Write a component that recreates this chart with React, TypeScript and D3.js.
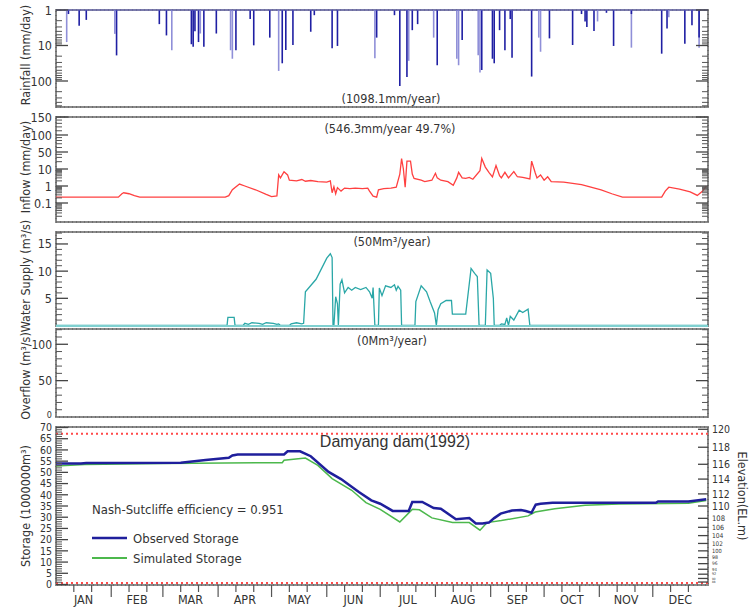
import React from 'react';
import * as d3 from 'd3';

// ---------------- DATA ----------------
const MONTHS = ['JAN','FEB','MAR','APR','MAY','JUN','JUL','AUG','SEP','OCT','NOV','DEC'];
const MONTH_DAYS = [31,29,31,30,31,30,31,31,30,31,30,31];

// Rainfall (mm/day) – [day, value]
const rainDark: [number, number][] = [
  [7,1.3],[13,2.8],[17,1.9],[34,19],[58,2.5],[62,5.2],[76,9.2],[77,10.8],[78,4],[80,8],[83,10.8],[90,4.6],
  [101,13.6],[109,1.8],[111,9.9],[120,6],[127,31.7],[129,13.4],[133,9.7],[143,4.1],[145,1.4],[155,12],[158,10.3],
  [180,6],[190,1.4],[193,138],[197,77],[200,3.7],[203,2.5],[214,36],[228,7],[239,49],[245,23.6],[246,31.7],
  [249,3.7],[252,13.6],[255,1.8],[256,22],[267,75],[277,6.3],[290,9.7],[295,1.3],[297,2.1],[298,3],[302,3.9],
  [309,1.2],[313,10.3],[323,1.3],[340,17],[343,3.3],[353,8.9],[357,2.7],[361,6]
];
const rainLight: [number, number][] = [
  [6,8],[33,4.7],[65,13.6],[81,4.6],[98,13.6],[99,23.6],[125,52],[179,23],[198,27],[212,6],[225,23.6],
  [226,36],[237,18.8],[238,58],[271,6],[272,15],[304,2.1],[323,11.5],[344,1.6],[361,11.5]
];

// Inflow (mm/day) – [day, value]
const inflow: [number, number][] = [
  [0,0.22],[35,0.22],[37,0.35],[38,0.4],[41,0.35],[44,0.27],[47,0.22],[95,0.22],[97,0.27],[99,0.6],[103,1.3],
  [106,1.0],[112,0.6],[118,0.32],[121,0.24],[124,0.26],[125,4.5],[126,3.0],[128,6.9],[130,4.5],[131,2.2],[135,2.0],
  [138,2.4],[140,1.9],[143,2.1],[147,1.8],[152,1.7],[154,2.0],[155,0.4],[156,0.9],[157,0.35],[158,0.8],[160,0.5],
  [162,0.75],[165,0.7],[168,0.75],[172,0.7],[175,0.75],[176,0.5],[178,0.25],[180,0.22],[181,0.6],[184,0.7],
  [188,0.75],[191,0.85],[193,5],[194,27],[195,10],[196,0.85],[197,21],[199,21],[200,5],[201,2.8],[205,2.2],
  [207,1.8],[211,2.2],[213,5.6],[214,3],[216,2.2],[220,1.8],[223,1.1],[225,3],[226,6.4],[228,3],[230,2.8],
  [232,3.2],[234,2.5],[238,8],[239,27],[241,12],[243,6.4],[245,3.4],[247,13.8],[249,4],[250,3],[252,6.4],
  [254,3],[257,7],[259,3.5],[262,3.2],[266,2.6],[267,21],[269,6],[270,3],[272,4.5],[274,2.2],[276,3.5],
  [278,1.8],[285,1.7],[295,1.2],[306,0.6],[312,0.35],[318,0.22],[340,0.22],[342,0.5],[344,0.85],[350,0.65],
  [356,0.45],[360,0.28],[363,0.5],[365,1.0]
];

// Water supply (m3/s) – [day, value]
const supply: [number, number][] = [
  [0,0],[96,0],[96.5,1.5],[100,1.5],[100.5,0],[105,0],[106,0.4],[108,0.2],[110,0.5],[114,0.4],[116,0.2],
  [118,0.5],[122,0.4],[124,0.2],[125,0.3],[126,0],[131,0],[132,0.3],[135,0.5],[138,0.3],[139,0.4],[140,6.2],
  [146,8.5],[152,12.4],[154,13.2],[155,12.5],[155.5,0],[156,0],[157,5.3],[158,4],[158.5,0],[159.5,7.6],
  [160.5,8.4],[162,6],[164,7],[166,6.5],[168,7],[171,6.6],[174,7],[176,6.2],[177.5,5],[178,7],[179,0],[181,0],
  [181.5,6.9],[183,5.5],[185,7.3],[188,7],[190,7.5],[191,6.5],[192,7.2],[193.5,6.5],[194,0],[201.5,0],[202,4.4],
  [205,7.3],[208,6.2],[210,4.4],[212.5,2.3],[213.5,0],[214.5,2.9],[216,4],[219,4.6],[222,4.6],[222.5,2.1],
  [230,2.1],[233,10.5],[235,9.6],[236.5,9],[237.5,0],[241,0],[242,10.2],[244,9.6],[245.5,5],[246,0],[249,0],
  [250,0.3],[252,0.2],[253,1.4],[254,0],[255,1.7],[257,1],[260,2.8],[262,2.4],[265,3],[266,0],[366,0]
];

// Storage (10^6 m3) – [day, value]
const observed: [number, number][] = [
  [0,53.9],[14,53.9],[17,54.2],[70,54.3],[84,55.5],[97,56.5],[99,57.5],[102,58],[128,58],[130,59.4],[137,59.4],
  [143,57.2],[153,50.2],[160,47],[170,41.2],[177,37.5],[182,36],[189,32.8],[198,32.8],[200,36.8],[205.6,36.8],
  [212,34.1],[216,33.8],[224.5,29.1],[232,29.6],[235.7,27.2],[239.4,27.2],[243,27.6],[246,29.6],[249.6,31.6],
  [256,33],[261,33.2],[263.7,32.8],[266.9,32],[269.3,35.6],[272,36],[278.7,36.4],[336.7,36.4],[338,37],
  [355,37],[365,38]
];
const simulated: [number, number][] = [
  [0,52.8],[16,53.5],[60,54],[127,54.3],[128,55.4],[140,56.4],[147,53.1],[155,47.2],[166,42],[174,36.5],
  [182,33.5],[193,27.9],[200,33.5],[204,33.3],[211,29.7],[222.6,27.6],[232,27.6],[238,24.2],[242,27.6],
  [250,28.5],[265,30.6],[269,32.3],[280,33.8],[297,35.3],[316,35.9],[355,36.2],[365,37.5]
];

const NORMAL_HIGH = 67.2;
const LOW_LEVEL = 0.7;

// Axis ticks
const RAIN_MAJOR = [1, 10, 100];
const RAIN_MINOR = [2,3,4,5,6,7,8,9,20,30,40,50,60,70,80,90,200,300,400,500];
const INFLOW_MAJOR = [0.1, 1, 10, 50, 100, 150];
const INFLOW_LABELS = ['0.1','1','10','50','100','150'];
const INFLOW_MINOR = [0.02,0.03,0.04,0.05,0.06,0.07,0.08,0.09,0.2,0.3,0.4,0.5,0.6,0.7,0.8,0.9,2,3,4,5,6,7,8,9,20,30,40,60,70,80,90,110,120,130,140];
const SUPPLY_MAJOR = [5, 10, 15];
const SUPPLY_MINOR = [1,2,3,4,6,7,8,9,11,12,13,14,16,17];
const OVER_MAJOR = [50, 100];
const OVER_ZERO = 0;
const OVER_MINOR = [10,20,30,40,60,70,80,90,110,120];
const STOR_MAJOR = [0,5,10,15,20,25,30,35,40,45,50,55,60,65,70];
const ELEV_LABELS = [120,118,116,114,112,110,108,106,104,102,100,98,96,94,92,90,88];
const ELEV_STORAGE = [69.2,61.2,53.6,47,40.4,35,29.5,25.5,21.8,18.3,15,12,9.3,6.8,4.6,2.7,1.1];

// ---------------- LAYOUT ----------------
const X0 = 56, X1 = 708;
const FONT = "'Liberation Sans Narrow','DejaVu Sans Condensed','Arial Narrow',sans-serif";
const TXT = '#333';
const P1 = { t: 10, b: 107 };
const P2 = { t: 117, b: 222 };
const P3 = { t: 232, b: 326 };
const P4 = { t: 329, b: 417 };
const P5 = { t: 427, b: 585 };

const x = d3.scaleLinear().domain([0, 366]).range([X0, X1]);
const yRain = d3.scaleLog().domain([1, 100]).range([P1.t, P1.t + 71]);
const yInflowLin = d3.scaleLinear()
  .domain([-2, -1, 0, 1, Math.log10(50), 2, Math.log10(150)])
  .range([P2.b, 203, 186, 169, 152, 135, P2.t]);
const yInflow = (v: number) => yInflowLin(Math.log10(v));
const ySupply = d3.scaleLinear().domain([0, 17.2]).range([P3.b - 0.5, P3.t]);
const yOver = d3.scaleLinear().domain([0, 121]).range([P4.b, P4.t]);
const yStor = d3.scaleLinear().domain([0, 70]).range([584.5, 427.5]);

function Ticks({ major, minor, y, labels, fs = 12.5, both = true }: any) {
  const els: any[] = [];
  major.forEach((v: number, i: number) => {
    const yy = y(v);
    els.push(<line key={'ma' + i} x1={X0} x2={X0 + 12} y1={yy} y2={yy} stroke="#444" strokeWidth={1.3} />);
    if (both) els.push(<line key={'mar' + i} x1={X1} x2={X1 - 12} y1={yy} y2={yy} stroke="#444" strokeWidth={1.3} />);
    els.push(<text key={'l' + i} x={X0 - 4} y={yy + fs * 0.36} textAnchor="end" fontSize={fs} fill={TXT} fontFamily={FONT}>{labels ? labels[i] : String(v)}</text>);
  });
  minor.forEach((v: number, i: number) => {
    const yy = y(v);
    els.push(<line key={'mi' + i} x1={X0} x2={X0 + 6} y1={yy} y2={yy} stroke="#555" strokeWidth={1} />);
    if (both) els.push(<line key={'mir' + i} x1={X1} x2={X1 - 6} y1={yy} y2={yy} stroke="#555" strokeWidth={1} />);
  });
  return <g>{els}</g>;
}

function Frame({ p }: any) {
  return (
    <g>
      <rect x={X0} y={p.t} width={X1 - X0} height={p.b - p.t} fill="none" stroke="#8a8a8a" strokeWidth={2} />
      <rect x={X0} y={p.t} width={X1 - X0} height={p.b - p.t} fill="none" stroke="#555" strokeWidth={1} strokeDasharray="1 3" />
    </g>
  );
}

function YTitle({ text, cx, cy, rot = -90 }: any) {
  return (
    <text transform={`translate(${cx},${cy}) rotate(${rot})`} textAnchor="middle" fontSize={12.5} fill={TXT} fontFamily={FONT}>{text}</text>
  );
}

export default function App() {
  const inflowLine = d3.line<[number, number]>().x(d => x(d[0])).y(d => yInflow(d[1]));
  const supplyLine = d3.line<[number, number]>().x(d => x(d[0])).y(d => ySupply(d[1]));
  const storLine = d3.line<[number, number]>().x(d => x(d[0])).y(d => yStor(d[1]));

  const cum: number[] = [0];
  MONTH_DAYS.forEach(d => cum.push(cum[cum.length - 1] + d));

  const xTicks: any[] = [];
  MONTHS.forEach((m, i) => {
    const s = cum[i];
    if (i > 0) xTicks.push(<line key={'mb' + i} x1={x(s)} x2={x(s)} y1={P5.b} y2={P5.b + 12} stroke="#555" strokeWidth={1.2} />);
    [10, 20].forEach(dd => xTicks.push(<line key={'md' + i + dd} x1={x(s + dd)} x2={x(s + dd)} y1={P5.b} y2={P5.b + 7} stroke="#555" strokeWidth={1.2} />));
    xTicks.push(<text key={'ml' + i} x={x(s + MONTH_DAYS[i] / 2)} y={604} textAnchor="middle" fontSize={12.5} fill={TXT} fontFamily={FONT}>{m}</text>);
  });

  // elevation labels: shrink where they crowd together
  const elevYs = ELEV_STORAGE.map(s => yStor(s));
  const elevFs = elevYs.map((yy, i) => {
    const gap = i < elevYs.length - 1 ? elevYs[i + 1] - yy : yy - elevYs[i - 1];
    const prev = i > 0 ? yy - elevYs[i - 1] : gap;
    return Math.max(3, Math.min(10.5, Math.min(gap, prev) * 0.85));
  });

  return (
    <svg width={750} height={610} style={{ position: 'fixed', left: 0, top: 0, background: '#fff' }}>
      <rect x={0} y={0} width={750} height={610} fill="#fff" />

      {/* Panel 1: Rainfall */}
      <Frame p={P1} />
      {rainLight.map((d, i) => (
        <line key={'rl' + i} x1={x(d[0])} x2={x(d[0])} y1={P1.t} y2={yRain(d[1])} stroke="#8f8fd8" strokeWidth={1.6} />
      ))}
      {rainDark.map((d, i) => (
        <line key={'rd' + i} x1={x(d[0])} x2={x(d[0])} y1={P1.t} y2={yRain(d[1])} stroke="#1f1fa3" strokeWidth={1.6} />
      ))}
      <line x1={X0} x2={X1} y1={P1.t} y2={P1.t} stroke="#6a6acc" strokeWidth={1.2} />
      <Ticks major={RAIN_MAJOR} minor={RAIN_MINOR} y={yRain} />
      <text x={391} y={103} textAnchor="middle" fontSize={12.5} fill={TXT} fontFamily={FONT}>(1098.1mm/year)</text>
      <YTitle text="Rainfall (mm/day)" cx={30} cy={55} />

      {/* Panel 2: Inflow */}
      <Frame p={P2} />
      <path d={inflowLine(inflow) || ''} fill="none" stroke="#ff4040" strokeWidth={1.3} />
      <Ticks major={INFLOW_MAJOR} minor={INFLOW_MINOR} y={yInflow} labels={INFLOW_LABELS} />
      <text x={390} y={133} textAnchor="middle" fontSize={12.5} fill={TXT} fontFamily={FONT}>(546.3mm/year 49.7%)</text>
      <YTitle text="Inflow (mm/day)" cx={30} cy={167} />

      {/* Panel 3: Water supply */}
      <Frame p={P3} />
      <path d={supplyLine(supply) || ''} fill="none" stroke="#2aa7a7" strokeWidth={1.3} />
      <line x1={X0} x2={X1} y1={P3.b} y2={P3.b} stroke="#7fd0d0" strokeWidth={2} />
      <Ticks major={SUPPLY_MAJOR} minor={SUPPLY_MINOR} y={ySupply} />
      <text x={392} y={246} textAnchor="middle" fontSize={12.5} fill={TXT} fontFamily={FONT}>(50Mm³/year)</text>
      <YTitle text="Water Supply (m³/s)" cx={30} cy={276} />

      {/* Panel 4: Overflow */}
      <Frame p={P4} />
      <Ticks major={OVER_MAJOR} minor={OVER_MINOR} y={yOver} fs={12} />
      <text x={X0 - 4} y={yOver(OVER_ZERO) + 1} textAnchor="end" fontSize={9} fill={TXT} fontFamily={FONT}>{OVER_ZERO}</text>
      <text x={392} y={345} textAnchor="middle" fontSize={12.5} fill={TXT} fontFamily={FONT}>(0Mm³/year)</text>
      <YTitle text="Overflow (m³/s)" cx={30} cy={376} />

      {/* Panel 5: Storage */}
      <Frame p={P5} />
      <line x1={X0} x2={X1} y1={yStor(NORMAL_HIGH)} y2={yStor(NORMAL_HIGH)} stroke="#ff4a4a" strokeWidth={2} strokeDasharray="2 3" />
      <line x1={X0} x2={X1} y1={yStor(LOW_LEVEL)} y2={yStor(LOW_LEVEL)} stroke="#ff4a4a" strokeWidth={2} strokeDasharray="2 3" />
      <path d={storLine(simulated) || ''} fill="none" stroke="#4cb84c" strokeWidth={1.5} />
      <path d={storLine(observed) || ''} fill="none" stroke="#1f1f9c" strokeWidth={2.5} />
      <Ticks major={STOR_MAJOR} minor={d3.range(1, 70).filter(v => v % 5 !== 0)} y={yStor} both={false} fs={10.5} />
      {ELEV_LABELS.map((e, i) => (
        <g key={'el' + i}>
          <line x1={X1} x2={X1 - 10} y1={elevYs[i]} y2={elevYs[i]} stroke="#444" strokeWidth={1.3} />
          <text x={X1 + 4} y={elevYs[i] + elevFs[i] * 0.36} fontSize={elevFs[i]} fill={TXT} fontFamily={FONT}>{e}</text>
        </g>
      ))}
      <text x={395} y={447} textAnchor="middle" fontSize={16} fill={TXT} fontFamily="'Liberation Sans',Arial,sans-serif">Damyang dam(1992)</text>
      <text x={92} y={514} fontSize={13} fill={TXT} fontFamily={FONT}>Nash-Sutcliffe efficiency = 0.951</text>
      <line x1={92} x2={127} y1={538} y2={538} stroke="#1f1f9c" strokeWidth={2.5} />
      <text x={133} y={543} fontSize={13} fill={TXT} fontFamily={FONT}>Observed Storage</text>
      <line x1={92} x2={127} y1={558} y2={558} stroke="#4cb84c" strokeWidth={2} />
      <text x={133} y={563} fontSize={13} fill={TXT} fontFamily={FONT}>Simulated Storage</text>
      <YTitle text="Storage (1000000m³)" cx={30} cy={506} />
      <YTitle text="Elevation(EL.m)" cx={738} cy={496} rot={90} />
      {xTicks}
    </svg>
  );
}
